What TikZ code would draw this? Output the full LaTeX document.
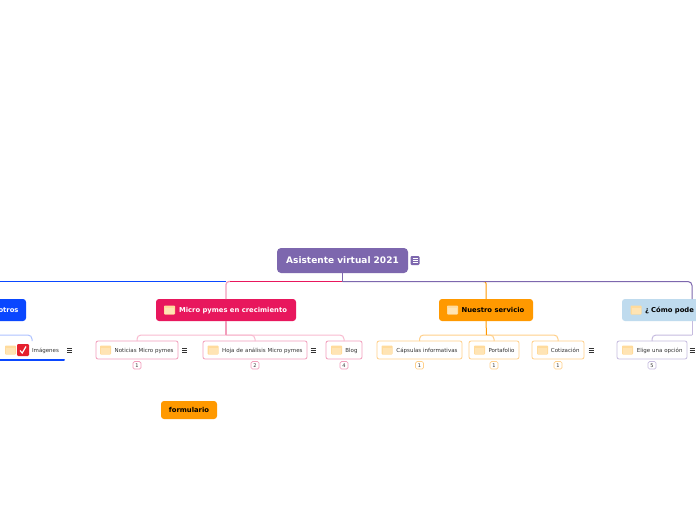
\documentclass[tikz,border=0pt]{standalone}
\usepackage{fontspec}
\setmainfont{DejaVu Sans}
\usetikzlibrary{positioning}
\definecolor{rootpurple}{HTML}{7D67AE}
\definecolor{rose}{HTML}{E8175D}
\definecolor{softrose}{HTML}{F29DBB}
\definecolor{paleline}{HTML}{F9BBD0}
\definecolor{amber}{HTML}{FF9900}
\definecolor{softamber}{HTML}{FFD08A}
\definecolor{royal}{HTML}{0A47FF}
\definecolor{softroyal}{HTML}{AFC3FF}
\definecolor{skyfill}{HTML}{BFDBEE}
\definecolor{softpurple}{HTML}{C6BBDF}
\definecolor{foldercol}{HTML}{FFDB9C}
\definecolor{checkred}{HTML}{E5202E}
\definecolor{inkgray}{HTML}{333333}
\tikzset{
  rootbox/.style={draw=none, fill=rootpurple, rounded corners=4pt, text=white, font=\fontsize{9}{10}\selectfont\bfseries, minimum width=131pt, minimum height=25pt, inner sep=0pt, outer sep=0pt},
  topicbox/.style={draw=none, rounded corners=3pt, font=\fontsize{6.8}{8}\selectfont\bfseries, text height=6pt, text depth=0.8pt, minimum height=22pt, inner xsep=7.5pt, inner ysep=0pt, outer sep=0pt, align=right},
  subbox/.style={draw=#1, line width=0.8pt, fill=white, rounded corners=2pt, text=inkgray, font=\fontsize{5.5}{6}\selectfont, text height=5pt, text depth=0.6pt, minimum height=18pt, inner xsep=4.5pt, inner ysep=0pt, outer sep=0pt, align=right},
  countbox/.style={draw=#1, line width=0.7pt, fill=white, rounded corners=1.5pt, text=inkgray, font=\fontsize{5}{5}\selectfont, minimum width=8pt, minimum height=7.5pt, inner sep=0pt, outer sep=0pt},
  trunk/.style={draw=#1, line width=1pt},
  busline/.style={draw=#1, line width=1pt, rounded corners=4pt},
  folder/.pic={\fill[foldercol, rounded corners=0.8pt] (-5.5,-4.5) rectangle (5.5,4.5); \fill[white, opacity=0.25] (-4.5,-2) rectangle (4.5,3.5);},
  menu/.pic={\draw[inkgray, line width=0.7pt] (-2.5,-2) -- (2.5,-2) (-2.5,0) -- (2.5,0) (-2.5,2) -- (2.5,2);},
  notemark/.pic={\fill[rootpurple, rounded corners=1.2pt] (-4.5,-4.5) rectangle (4.5,4.5); \draw[white, line width=0.5pt] (-2.5,-2) -- (2.5,-2) (-2.5,0) -- (2.5,0) (-2.5,2) -- (2.5,2);},
  checkmark/.pic={\fill[checkred, rounded corners=1.2pt] (-6,-6) rectangle (6,6); \draw[white, line width=1.2pt] (-3,0.5) -- (-0.8,3) -- (3,-3.5);}
}
\begin{document}
\begin{tikzpicture}[x=1pt, y=-1pt]
  \clip (0,0) rectangle (696,520);
  \fill[white] (0,0) rectangle (696,520);

  % top level
  \node[rootbox] (root) at (342.5,260.5) {Asistente virtual 2021};
  \coordinate (mainbus) at (342.5,281.5);
  \coordinate (leftend) at (0,281.5);
  \node[topicbox, fill=royal, text=white, minimum width=92pt, text width=77pt] (otros) at (-20,310) {otros};
  \node[topicbox, fill=rose, text=white, minimum width=140pt] (micro) at (226,310) {\hspace*{14pt}Micro pymes en crecimiento};
  \node[topicbox, fill=amber, text=black, minimum width=94pt] (servicio) at (486,310) {\hspace*{14pt}Nuestro servicio};
  \node[topicbox, fill=skyfill, text=black, minimum width=140pt, text width=140pt, align=left, inner xsep=0pt] (como) at (692,310) {\hspace*{23pt}¿ Cómo pode};

  % micro pymes
  \coordinate (microbus) at (226,335);
  \node[subbox=softrose, minimum width=82pt, text width=73pt] (noticias) at (137,350) {Noticias Micro pymes};
  \node[subbox=softrose, minimum width=104pt, text width=95pt, right=25pt of noticias] (hoja) {Hoja de análisis Micro pymes};
  \node[subbox=softrose, minimum width=36pt, text width=27pt, right=19pt of hoja] (blog) {Blog};
  \node[countbox=softrose, below=2.5pt of noticias] (n1) {1};
  \node[countbox=softrose, below=2.5pt of hoja] (n2) {2};
  \node[countbox=softrose, below=2.5pt of blog] (n4) {4};
  \node[topicbox, fill=amber, text=black, minimum width=56pt, minimum height=18pt, align=center, inner xsep=0pt] (formulario) at (189,410) {formulario};

  % nuestro servicio
  \coordinate (serviciobus) at (486.5,335);
  \node[subbox=softamber, minimum width=85pt, text width=76pt] (capsulas) at (419.5,350) {Cápsulas informativas};
  \node[subbox=softamber, minimum width=50pt, text width=41pt, right=7pt of capsulas] (portafolio) {Portafolio};
  \node[subbox=softamber, minimum width=52pt, text width=43pt, right=13pt of portafolio] (cotizacion) {Cotización};
  \node[countbox=softamber, below=2.5pt of capsulas] (c1) {1};
  \node[countbox=softamber, below=2.5pt of portafolio] (p1) {1};
  \node[countbox=softamber, below=2.5pt of cotizacion] (t1) {1};

  % como
  \coordinate (comobus) at (692,335);
  \node[subbox=softpurple, minimum width=70pt, text width=61pt] (elige) at (652,350) {Elige una opción};
  \node[countbox=softpurple, below=2.5pt of elige] (e5) {5};

  % nosotros
  \node[font=\fontsize{5.5}{6}\selectfont, text=inkgray, text height=5pt, text depth=0.6pt, inner sep=0pt] (imagenes) at (45.5,350) {Imágenes};
  \coordinate (imagenesbus) at (-10,335);
  \coordinate (imagenestop) at (32,341);
  \coordinate (barleft) at (0,359.5);
  \coordinate (barright) at (64,359.5);

  % connectors
  \draw[trunk=royal] (leftend) -- (micro.north |- leftend);
  \draw[trunk=softrose, line width=1.2pt, rounded corners=3pt] (micro.north) |- ([xshift=4pt]micro.north |- leftend);
  \draw[trunk=rose] ([xshift=4pt]micro.north |- mainbus) -- (mainbus);
  \draw[trunk=amber, rounded corners=2pt] (servicio.north) |- ([xshift=-3pt]servicio.north |- mainbus);
  \draw[trunk=rootpurple] (root.south) -- (mainbus);
  \draw[trunk=rootpurple, rounded corners=4pt] (mainbus) -| (como.north);

  \draw[busline=softroyal] (imagenesbus) -| (imagenestop);
  \draw[busline=paleline] (noticias.north) |- (microbus);
  \draw[busline=paleline] (hoja.north) |- (microbus);
  \draw[busline=paleline] (blog.north) |- (microbus);
  \draw[trunk=softrose, line width=1.5pt] (micro.south) -- (microbus);
  \draw[busline=softamber] (capsulas.north) |- (serviciobus);
  \draw[busline=softamber] (portafolio.north) |- (serviciobus);
  \draw[busline=softamber] (cotizacion.north) |- (serviciobus);
  \draw[trunk=amber] (servicio.south) -- (serviciobus);
  \draw[busline=softpurple] (elige.north) |- (comobus);
  \draw[trunk=softpurple] (como.south) -- (comobus);
  \draw[royal, line width=2pt, line cap=round] (barleft) -- (barright);

  % icons
  \pic at (415,260.5) {notemark};
  \pic at (169.5,310) {folder};
  \pic at (452.5,310) {folder};
  \pic at (636,310) {folder};
  \pic at (105.5,350) {folder};
  \pic at (213,350) {folder};
  \pic at (336.5,350) {folder};
  \pic at (387,350) {folder};
  \pic at (479.5,350) {folder};
  \pic at (542.5,350) {folder};
  \pic at (627.5,350) {folder};
  \pic at (10.5,350) {folder};
  \pic at (23,350) {checkmark};
  \pic at (69.5,350) {menu};
  \pic at (184.5,350) {menu};
  \pic at (313,350) {menu};
  \pic at (591,350) {menu};
  \pic at (692,350) {menu};
\end{tikzpicture}
\end{document}
